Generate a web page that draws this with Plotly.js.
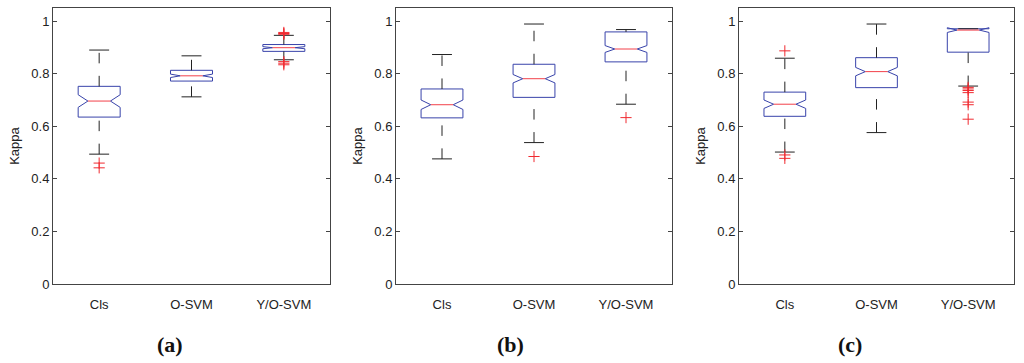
<!DOCTYPE html>
<html><head><meta charset="utf-8">
<script src="https://cdn.plot.ly/plotly-3.0.1.min.js"></script>
<style>html,body{margin:0;padding:0;background:#fff}#chart{width:1024px;height:363px}</style>
</head><body><div id="chart"></div>
<script>
const categories = ['Cls', 'O-SVM', 'Y/O-SVM'];
const panelLabels = ['(a)', '(b)', '(c)'];
const yTitle = 'Kappa';
const yTickVals = [0, 0.2, 0.4, 0.6, 0.8, 1];

// Panel (a)
const a_q1 = [0.635, 0.772, 0.885];
const a_median = [0.696, 0.792, 0.899];
const a_q3 = [0.752, 0.813, 0.911];
const a_lower = [0.494, 0.712, 0.853];
const a_upper = [0.890, 0.868, 0.946];
const a_notch = [0.024, 0.0065, 0.004];
const a_outliers = [[0.460, 0.442], [], [0.950, 0.953, 0.957, 0.846, 0.840, 0.834]];

// Panel (b)
const b_q1 = [0.632, 0.710, 0.845];
const b_median = [0.682, 0.781, 0.894];
const b_q3 = [0.742, 0.836, 0.959];
const b_lower = [0.476, 0.538, 0.684];
const b_upper = [0.873, 0.989, 0.968];
const b_notch = [0.018, 0.016, 0.013];
const b_outliers = [[], [0.485], [0.633]];

// Panel (c)
const c_q1 = [0.638, 0.747, 0.882];
const c_median = [0.684, 0.808, 0.966];
const c_q3 = [0.730, 0.861, 0.971];
const c_lower = [0.502, 0.576, 0.753];
const c_upper = [0.859, 0.989, 0.971];
const c_notch = [0.016, 0.016, 0.009];
const c_outliers = [[0.887, 0.491, 0.478], [], [0.748, 0.742, 0.736, 0.728, 0.692, 0.682, 0.627]];

const panels = [
  {q1: a_q1, med: a_median, q3: a_q3, lo: a_lower, hi: a_upper, ns: a_notch, out: a_outliers},
  {q1: b_q1, med: b_median, q3: b_q3, lo: b_lower, hi: b_upper, ns: b_notch, out: b_outliers},
  {q1: c_q1, med: c_median, q3: c_q3, lo: c_lower, hi: c_upper, ns: c_notch, out: c_outliers}
];

const HALF_W = 0.2275, INNER_HALF = 0.122, CAP_HALF = 0.108;
const BLUE = '#3843aa', RED = '#f2404a', OUTRED = '#f02a30', BLACK = '#222';
const FONT = 'Liberation Sans, Arial, sans-serif';
const pos = categories.map((c, i) => i + 1);
const xDomains = [[53/1024, 330/1024], [396/1024, 672/1024], [739/1024, 1014/1024]];
const yDomain = [(363-284)/363, (363-8)/363];

const traces = [];
const layout = {
  width: 1024, height: 363,
  margin: {l: 0, r: 0, t: 0, b: 0},
  paper_bgcolor: '#fff', plot_bgcolor: '#fff',
  showlegend: false,
  font: {family: FONT, size: 13, color: '#222'},
  annotations: []
};

panels.forEach((p, i) => {
  const sx = i === 0 ? '' : String(i + 1);
  const xa = 'x' + sx, ya = 'y' + sx;
  // notched boxes
  const bx = [], by = [];
  pos.forEach((c, k) => {
    const q1 = p.q1[k], q3 = p.q3[k], m = p.med[k], n = p.ns[k];
    bx.push(c - HALF_W, c - HALF_W, c - INNER_HALF, c - HALF_W, c - HALF_W,
            c + HALF_W, c + HALF_W, c + INNER_HALF, c + HALF_W, c + HALF_W, c - HALF_W, null);
    by.push(q1, m - n, m, m + n, q3, q3, m + n, m, m - n, q1, q1, null);
  });
  traces.push({type: 'scatter', mode: 'lines', xaxis: xa, yaxis: ya, hoverinfo: 'skip',
    x: bx, y: by, line: {color: BLUE, width: 1}});
  // whiskers: dashed, drawn from low value to high value
  pos.forEach((c, k) => {
    traces.push({type: 'scatter', mode: 'lines', xaxis: xa, yaxis: ya, hoverinfo: 'skip',
      x: [c, c], y: [p.q3[k], p.hi[k]], line: {color: BLACK, width: 1, dash: '10.5px,12.5px'}});
    traces.push({type: 'scatter', mode: 'lines', xaxis: xa, yaxis: ya, hoverinfo: 'skip',
      x: [c, c], y: [p.lo[k], p.q1[k]], line: {color: BLACK, width: 1, dash: '10.5px,12.5px'}});
  });
  // caps
  const cx = [], cy = [];
  pos.forEach((c, k) => {
    cx.push(c - CAP_HALF, c + CAP_HALF, null, c - CAP_HALF, c + CAP_HALF, null);
    cy.push(p.hi[k], p.hi[k], null, p.lo[k], p.lo[k], null);
  });
  traces.push({type: 'scatter', mode: 'lines', xaxis: xa, yaxis: ya, hoverinfo: 'skip',
    x: cx, y: cy, line: {color: BLACK, width: 1}});
  // medians
  const mx = [], my = [];
  pos.forEach((c, k) => { mx.push(c - INNER_HALF, c + INNER_HALF, null); my.push(p.med[k], p.med[k], null); });
  traces.push({type: 'scatter', mode: 'lines', xaxis: xa, yaxis: ya, hoverinfo: 'skip',
    x: mx, y: my, line: {color: RED, width: 1}});
  // outliers
  const ox = [], oy = [];
  pos.forEach((c, k) => p.out[k].forEach(v => { ox.push(c); oy.push(v); }));
  traces.push({type: 'scatter', mode: 'markers', xaxis: xa, yaxis: ya, hoverinfo: 'skip',
    x: ox, y: oy, marker: {symbol: 'cross-thin', size: 8, line: {color: OUTRED, width: 1}}});

  layout['xaxis' + sx] = {
    domain: xDomains[i], anchor: ya, range: [0.5, 3.5],
    tickmode: 'array', tickvals: pos, ticktext: categories, ticks: '',
    showline: true, mirror: true, linecolor: '#444', linewidth: 1,
    showgrid: false, zeroline: false, ticklabelstandoff: 8,
    tickfont: {family: FONT, size: 13, color: '#222'}
  };
  layout['yaxis' + sx] = {
    domain: yDomain, anchor: xa, range: [0, 1.05],
    tickmode: 'array', tickvals: yTickVals, ticks: 'inside', ticklen: 4, tickcolor: '#444',
    showline: true, mirror: 'ticks', linecolor: '#444', linewidth: 1,
    showgrid: false, zeroline: false,
    tickfont: {family: FONT, size: 13, color: '#222'},
    title: {text: yTitle, standoff: 8, font: {family: FONT, size: 13, color: '#222'}}
  };
  layout.annotations.push({
    text: '<b>' + panelLabels[i] + '</b>', xref: 'paper', yref: 'paper',
    x: (i * 340 + 170) / 1024, y: (363 - 344) / 363, xanchor: 'center', yanchor: 'middle',
    showarrow: false, font: {family: 'Liberation Serif, Times New Roman, serif', size: 22, color: '#111'}
  });
});

Plotly.newPlot('chart', traces, layout, {displayModeBar: false, staticPlot: true});
</script>
</body></html>
